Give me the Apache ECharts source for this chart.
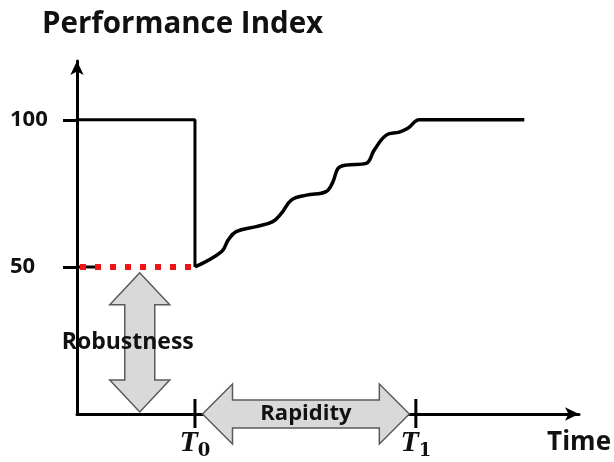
<!DOCTYPE html>
<html>
<head>
<meta charset="utf-8">
<script src="https://cdn.jsdelivr.net/npm/echarts@6/dist/echarts.min.js"></script>
<style>
  html, body { margin: 0; padding: 0; background: #fff; }
  #chart { width: 614px; height: 462px; }
</style>
</head>
<body>
<div id="chart"></div>
<script>
  // axes (arbitrary time units, performance %)
  const xMax = 100
  const yMax = 120
  const yTicks = [50, 100]
  const T0 = 23.5
  const T1 = 67.5
  const tLabels = {23.5: '0', 67.5: '1'}

  // performance curve
  const preDrop = [[0, 100], [23.5, 100], [23.5, 50]]
  const recovery = [[23.5, 50], [28.8, 55.2], [30.1, 59.1], [31.7, 62], [35.7, 63.7], [39, 65.4],
    [40.7, 68.2], [42.7, 72.7], [45.7, 74.4], [49.6, 75.6], [51, 79], [52, 83.5], [53.6, 84.6],
    [57.6, 85.2], [59.2, 89.7], [61.6, 94.8], [64.2, 95.8], [65.9, 97.1], [68.2, 100], [72.2, 100], [89.1, 100]]
  const baseline50 = [[0.6, 50], [24.5, 50]]
  const stub50 = [[0, 50], [4.6, 50]]

  // double arrows [x1, y1, x2, y2, label]
  const arrows = [
    [12.5, 48, 12.5, 0.7, 'Robustness'],
    [25, 0, 66.2, 0, 'Rapidity']
  ]

  const FONT = "'Open Sans', 'Noto Sans', sans-serif"
  const myChart = echarts.init(document.getElementById('chart'))

  function renderArrow(params, api) {
    const p1 = api.coord([api.value(0), api.value(1)])
    const p2 = api.coord([api.value(2), api.value(3)])
    const dx = p2[0] - p1[0], dy = p2[1] - p1[1]
    const len = Math.sqrt(dx * dx + dy * dy)
    const u = [dx / len, dy / len]
    const v = [-u[1], u[0]]
    const vertical = Math.abs(dy) > Math.abs(dx)
    const h = vertical ? 32 : 30
    const hw = 30
    const sw = vertical ? 15 : 14
    const pt = (base, a, b) => [base[0] + a * u[0] + b * v[0], base[1] + a * u[1] + b * v[1]]
    const pts = [
      p1, pt(p1, h, hw), pt(p1, h, sw), pt(p2, -h, sw), pt(p2, -h, hw),
      p2, pt(p2, -h, -hw), pt(p2, -h, -sw), pt(p1, h, -sw), pt(p1, h, -hw)
    ]
    const cx = (p1[0] + p2[0]) / 2
    const cy = (p1[1] + p2[1]) / 2
    return {
      type: 'group',
      children: [{
        type: 'polygon',
        shape: { points: pts },
        style: { fill: '#d9d9d9', stroke: '#5a5a5a', lineWidth: 1.5 }
      }, {
        type: 'text',
        x: vertical ? cx - 12 : cx,
        y: cy,
        style: {
          text: api.value(4),
          fill: '#111',
          font: 'bold ' + (vertical ? 23 : 22) + 'px ' + FONT,
          align: 'center',
          verticalAlign: 'middle'
        }
      }]
    }
  }

  // tick crosses on the time axis, drawn on both sides of the axis line
  function renderCross(params, api) {
    const p = api.coord([api.value(0), 0])
    return {
      type: 'line',
      shape: { x1: p[0], y1: p[1] - 15, x2: p[0], y2: p[1] + 14 },
      style: { stroke: '#000', lineWidth: 3 }
    }
  }

  const option = {
    animation: false,
    title: {
      text: 'Performance Index',
      left: 37,
      top: 5,
      textStyle: { fontFamily: FONT, fontWeight: 'bold', fontSize: 29.5, color: '#111' }
    },
    grid: { left: 77, right: 34, top: 61, bottom: 48 },
    xAxis: {
      type: 'value',
      min: 0,
      max: xMax,
      name: 'Time',
      nameLocation: 'end',
      nameGap: 32,
      nameTextStyle: {
        fontFamily: FONT, fontWeight: 'bold', fontSize: 26, color: '#111',
        align: 'right', verticalAlign: 'top', padding: [16, 0, 0, 0]
      },
      splitLine: { show: false },
      axisLine: {
        symbol: ['none', 'arrow'],
        symbolSize: [10, 14],
        lineStyle: { color: '#000', width: 3 }
      },
      axisTick: { show: false },
      axisLabel: {
        customValues: [T0, T1],
        margin: 12,
        formatter: (val) => '{t|T}{s|' + tLabels[val] + '}',
        rich: {
          t: { fontFamily: 'Liberation Serif', fontStyle: 'italic', fontWeight: 'bold', fontSize: 30, color: '#111' },
          s: { fontFamily: 'DejaVu Serif', fontWeight: 'bold', fontSize: 18, color: '#111', padding: [16, 0, 0, 0] }
        }
      }
    },
    yAxis: {
      type: 'value',
      min: 0,
      max: yMax,
      splitLine: { show: false },
      axisLine: {
        symbol: ['none', 'arrow'],
        symbolSize: [10, 14],
        lineStyle: { color: '#000', width: 3 }
      },
      axisTick: {
        customValues: yTicks,
        length: 14,
        lineStyle: { color: '#000', width: 3 }
      },
      axisLabel: {
        customValues: yTicks,
        align: 'left',
        margin: 67,
        fontFamily: FONT,
        fontWeight: 'bold',
        fontSize: 22,
        color: '#111'
      }
    },
    series: [{
      type: 'line',
      data: preDrop,
      showSymbol: false,
      lineStyle: { color: '#000', width: 3 },
      z: 3
    }, {
      type: 'line',
      data: recovery,
      showSymbol: false,
      smooth: 0.4,
      lineStyle: { color: '#000', width: 3.5 },
      z: 3
    }, {
      type: 'line',
      data: stub50,
      showSymbol: false,
      lineStyle: { color: '#000', width: 3 },
      z: 3
    }, {
      type: 'line',
      data: baseline50,
      showSymbol: false,
      lineStyle: { color: '#f01414', width: 6, type: [6, 9], cap: 'butt' },
      z: 4
    }, {
      type: 'custom',
      renderItem: renderCross,
      clip: false,
      data: [[T0], [T1]],
      z: 4
    }, {
      type: 'custom',
      renderItem: renderArrow,
      clip: false,
      data: arrows,
      z: 5
    }]
  }
  myChart.setOption(option)
</script>
</body>
</html>
